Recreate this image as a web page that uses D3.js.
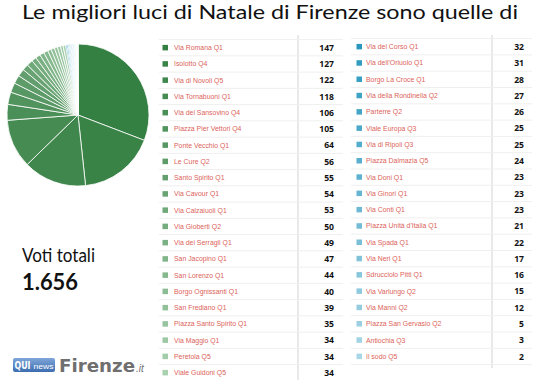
<!DOCTYPE html>
<html><head><meta charset="utf-8">
<script src="https://cdn.jsdelivr.net/npm/d3@7"></script>
<style>html,body{margin:0;padding:0;background:#fff;}svg{display:block;}</style>
</head><body>
<svg id="c" width="539" height="380"></svg>
<script>
const title = "Le migliori luci di Natale di Firenze sono quelle di";
const leftNames = ["Via Romana Q1","Isolotto Q4","Via di Novoli Q5","Via Tornabuoni Q1","Via del Sansovino Q4","Piazza Pier Vettori Q4","Ponte Vecchio Q1","Le Cure Q2","Santo Spirito Q1","Via Cavour Q1","Via Calzaiuoli Q1","Via Gioberti Q2","Via dei Serragli Q1","San Jacopino Q1","San Lorenzo Q1","Borgo Ognissanti Q1","San Frediano Q1","Piazza Santo Spirito Q1","Via Maggio Q1","Peretola Q5","Viale Guidoni Q5"];
const leftValues = [147,127,122,118,106,105,64,56,55,54,53,50,49,47,44,40,39,35,34,34,34];
const rightNames = ["Via del Corso Q1","Via dell'Oriuolo Q1","Borgo La Croce Q1","Via della Rondinella Q2","Parterre Q2","Viale Europa Q3","Via di Ripoli Q3","Piazza Dalmazia Q5","Via Doni Q1","Via Ginori Q1","Via Conti Q1","Piazza Unità d'Italia Q1","Via Spada Q1","Via Neri Q1","Sdrucciolo Pitti Q1","Via Varlungo Q2","Via Manni Q2","Piazza San Gervasio Q2","Antiochia Q3","Il sodo Q5"];
const rightValues = [32,31,28,27,26,25,25,24,23,23,23,21,22,17,16,15,12,5,3,2];
// pie shares as drawn in the picture (percent of the disc), same order as the table
const pieShares = [30.8,17.5,14.4,11.1,3.6,2.8,2.2,1.9,1.7,1.4,1.4,1.1,1.1,1.0,1.0,0.8,0.8,0.7,0.7,0.6,0.6,
  0.28,0.28,0.22,0.19,0.19,0.17,0.17,0.17,0.14,0.14,0.14,0.14,0.11,0.11,0.08,0.08,0.06,0.06,0.03,0.03];
const totalLabel = "Voti totali";
const totalValue = "1.656";

const svg = d3.select("#c");
const font = "Lato, 'Open Sans', sans-serif";

svg.append("text").attr("x",22).attr("y",19).attr("font-family",font).attr("font-size",18.5)
  .attr("fill","#111").attr("textLength",496).attr("lengthAdjust","spacingAndGlyphs").text(title);

// colours
const greenC = d3.scaleLinear().domain([0,leftNames.length-1]).range(["#347f42","#a9d0af"]).interpolate(d3.interpolateRgb);
const blueC = d3.scaleLinear().domain([0,rightNames.length-1]).range(["#2a98be","#a9d6e6"]).interpolate(d3.interpolateRgb);
const colorAt = i => i < leftNames.length ? greenC(i) : blueC(i-leftNames.length);

// pie
const pie = d3.pie().sort(null).value(d=>d);
const arc = d3.arc().innerRadius(0).outerRadius(71);
const pg = svg.append("g").attr("transform","translate(78,115)");
pg.selectAll("path").data(pie(pieShares)).join("path")
  .attr("d",arc).attr("fill",(d,i)=>colorAt(i)).attr("stroke","#fff").attr("stroke-width",0.8);

// tables
function table(names, values, offset, o){
  const y = d3.scaleLinear().domain([0,1]).range([o.y0, o.y0+o.pitch]);
  const g = svg.append("g");
  g.append("line").attr("x1",o.lineX).attr("x2",o.lineX).attr("y1",35).attr("y2",o.vEnd)
    .attr("stroke","#e2e2e2").attr("stroke-width",1.5);
  names.forEach((n,i)=>{
    const cy = y(i);
    g.append("line").attr("x1",o.hx1).attr("x2",o.hx2).attr("y1",cy-8.1).attr("y2",cy-8.1)
      .attr("stroke","#efefef").attr("stroke-width",1);
    g.append("rect").attr("x",o.sqX).attr("y",cy-2.8).attr("width",5.5).attr("height",5.5).attr("fill",colorAt(i+offset));
    g.append("text").attr("x",o.labX).attr("y",cy+2.4).attr("font-family","'Liberation Sans', Arial, sans-serif")
      .attr("font-size",6.9).attr("fill","#dc5f5a").text(n);
    g.append("text").attr("x",o.valX).attr("y",cy+3.2).attr("text-anchor","end").attr("font-family","'Open Sans', sans-serif")
      .attr("font-weight","bold").attr("font-size",8.6).attr("fill","#111").text(values[i]);
  });
  if(o.lastLine) g.append("line").attr("x1",o.hx1).attr("x2",o.hx2).attr("y1",y(names.length)-8.1).attr("y2",y(names.length)-8.1)
      .attr("stroke","#efefef").attr("stroke-width",1);
}
table(leftNames,leftValues,0,{y0:47.7,pitch:16.25,lineX:298,vEnd:380,hx1:159,hx2:343,sqX:162.5,labX:174,valX:334});
table(rightNames,rightValues,leftNames.length,{y0:46.7,pitch:16.3,lineX:492,vEnd:368,hx1:351,hx2:532,sqX:356.5,labX:366,valX:524,lastLine:true});

// totals
svg.append("text").attr("x",22).attr("y",262).attr("font-family",font).attr("font-size",19.5).attr("fill","#111")
  .attr("textLength",73).attr("lengthAdjust","spacingAndGlyphs").text(totalLabel);
svg.append("text").attr("x",22).attr("y",290).attr("font-family",font).attr("font-weight","bold").attr("font-size",22).attr("fill","#111")
  .attr("textLength",56).attr("lengthAdjust","spacingAndGlyphs").text(totalValue);

// logo
const lg = svg.append("g");
const grad = svg.append("defs").append("linearGradient").attr("id","lgb").attr("x1",0).attr("x2",0).attr("y1",0).attr("y2",1);
grad.append("stop").attr("offset","0%").attr("stop-color","#7fa6d8");
grad.append("stop").attr("offset","100%").attr("stop-color","#3d6db0");
lg.append("rect").attr("x",13).attr("y",358).attr("width",42).attr("height",14).attr("rx",2).attr("fill","url(#lgb)");
lg.append("text").attr("x",14.5).attr("y",369).attr("font-family","'DejaVu Sans', sans-serif").attr("font-weight","bold").attr("font-size",10).attr("fill","#fff").attr("textLength",16).attr("lengthAdjust","spacingAndGlyphs").text("QUI");
lg.append("text").attr("x",33.5).attr("y",369).attr("font-family","'Liberation Sans', sans-serif").attr("font-size",7).attr("fill","#fff").attr("textLength",20).attr("lengthAdjust","spacingAndGlyphs").text("news");
lg.append("text").attr("x",59).attr("y",372).attr("font-family","'DejaVu Sans', sans-serif").attr("font-weight","bold").attr("font-size",17).attr("fill","#6f6f6f").attr("textLength",76).attr("lengthAdjust","spacingAndGlyphs").text("Firenze");
lg.append("text").attr("x",136).attr("y",372).attr("font-family","'Liberation Sans', sans-serif").attr("font-style","italic").attr("font-size",10).attr("fill","#6f6f6f").text(".it");
</script>
</body></html>
